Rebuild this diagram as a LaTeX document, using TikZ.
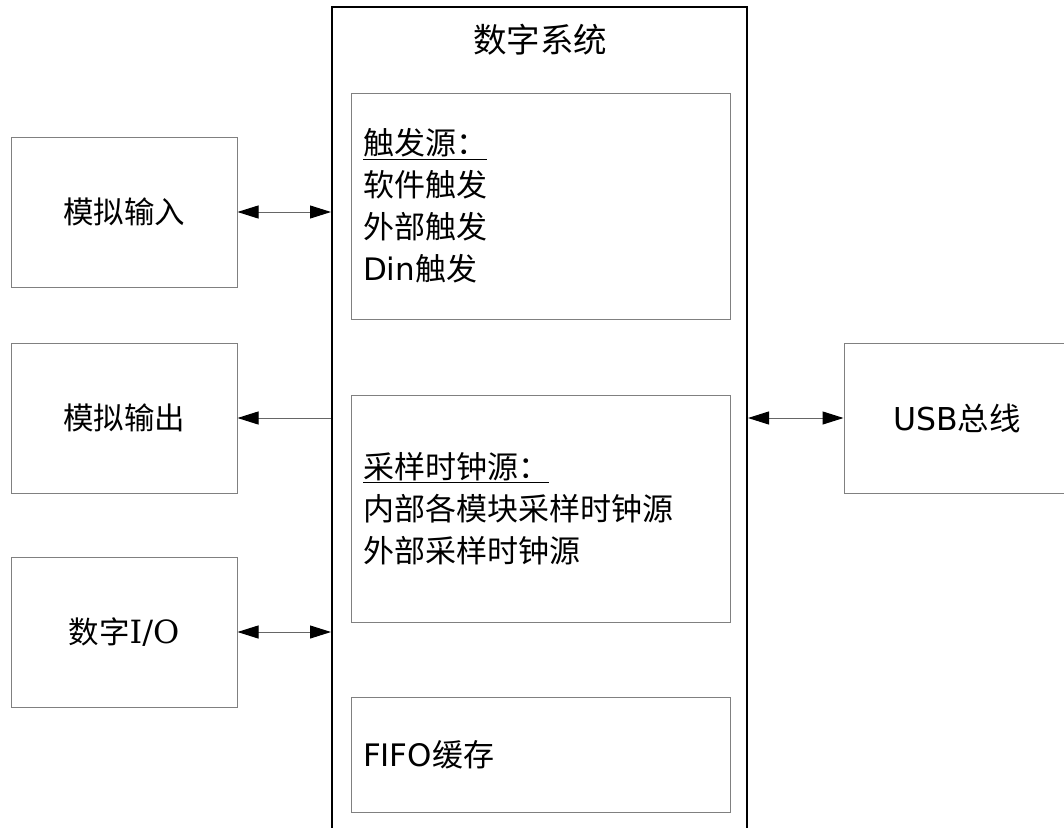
\documentclass[tikz,border=0pt]{standalone}
\usepackage{fontspec}
\setmainfont{DejaVu Sans}
\newfontfamily\cjk{Noto Sans CJK SC}
\newfontfamily\serifl{DejaVu Serif}
\usetikzlibrary{arrows.meta}
\begin{document}
\begin{tikzpicture}[x=1pt,y=-1pt,
  outer/.style={draw=black,line width=2pt,minimum width=415pt,minimum height=840pt,inner sep=0pt},
  sidebox/.style={draw=black!50,line width=1pt,minimum width=226pt,minimum height=150pt,inner sep=0pt,font=\fontsize{30.5}{36}\selectfont},
  inbox/.style={draw=black!50,line width=1pt,text width=355pt,inner xsep=12pt,inner ysep=0pt,align=left,font=\fontsize{31}{42}\selectfont},
  link/.style={draw=black!60,line width=1pt},
  tip/.style={-{Triangle[length=21pt,width=13pt,color=black]}},
  tips/.style={{Triangle[length=21pt,width=13pt,color=black]}-{Triangle[length=21pt,width=13pt,color=black]}}
]
\useasboundingbox (0,0) rectangle (1064,827);
\clip (0,0) rectangle (1064,827);
\fill[white] (0,0) rectangle (1064,827);

\node[outer] (big) at (539.5,427) {};
\node[font=\fontsize{33.5}{40}\selectfont] (title) at (540,40) {\cjk 数字系统};

\node[inbox,minimum height=226pt] (trig) at (540.5,206) {\underline{\cjk 触发源：}\\{\cjk 软件触发}\\{\cjk 外部触发}\\Din{\cjk 触发}};
\node[inbox,minimum height=227pt] (clk) at (540.5,508.5) {\underline{\cjk 采样时钟源：}\\{\cjk 内部各模块采样时钟源}\\{\cjk 外部采样时钟源}};
\node[inbox,minimum height=115pt] (fifo) at (540.5,754.5) {FIFO{\cjk 缓存}};

\node[sidebox] (ain) at (124,212) {\cjk 模拟输入};
\node[sidebox] (aout) at (124,418) {\cjk 模拟输出};
\node[sidebox] (dio) at (124,632) {{\cjk 数字}{\serifl\fontsize{32}{36}\selectfont I/O}};
\node[sidebox,font=\fontsize{31.5}{36}\selectfont] (usb) at (957,418) {USB{\cjk 总线}};

\draw[link,tips] (ain.east) -- (ain.east -| big.west);
\draw[link,tip] (aout.east -| big.west) -- (aout.east);
\draw[link,tips] (dio.east) -- (dio.east -| big.west);
\draw[link,tips] (usb.west -| big.east) -- (usb.west);
\end{tikzpicture}
\end{document}
